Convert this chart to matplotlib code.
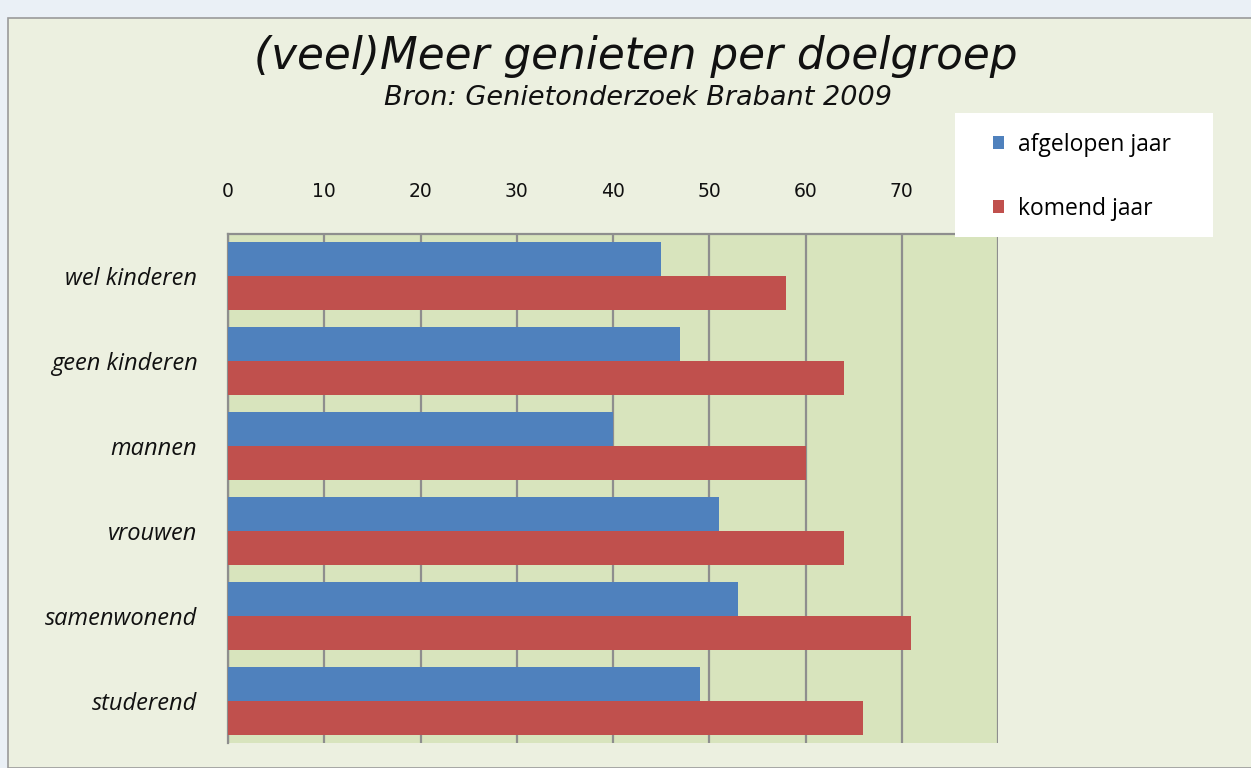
import matplotlib.pyplot as plt
import numpy as np
from matplotlib.patches import Rectangle

# data
groepen = ['wel kinderen', 'geen kinderen', 'mannen', 'vrouwen', 'samenwonend', 'studerend']
afgelopen_jaar = [45, 47, 40, 51, 53, 49]
komend_jaar = [58, 64, 60, 64, 71, 66]
ticks = [0, 10, 20, 30, 40, 50, 60, 70, 80]
tick_labels = ['0', '10', '20', '30', '40', '50', '60', '70', '']

blue = '#4F81BD'
red = '#C0504D'

fig = plt.figure(figsize=(12.51, 7.68), dpi=100)
fig.patch.set_facecolor('#EAF0F6')
# chart frame (screenshot look)
fig.add_artist(Rectangle((8 / 1251, 0), 1.0, 1 - 18 / 768, transform=fig.transFigure,
                         facecolor='#ECF0E0', edgecolor='#9A9A9A', linewidth=1.2, zorder=0))

ax = fig.add_axes([228 / 1251, 25 / 768, 770 / 1251, 509 / 768])
ax.set_facecolor('#D8E4BD')

y = np.arange(len(groepen))
h = 0.4
ax.barh(y - h / 2, afgelopen_jaar, height=h, color=blue, label='afgelopen jaar', zorder=3)
ax.barh(y + h / 2, komend_jaar, height=h, color=red, label='komend jaar', zorder=3)

ax.set_xlim(0, 80)
ax.set_ylim(len(groepen) - 0.5, -0.5)
ax.set_yticks(y)
ax.set_yticklabels(groepen, fontsize=17, style='italic', family='Open Sans')
ax.set_xticks(ticks)
ax.set_xticklabels(tick_labels, fontsize=13.5, family='DejaVu Sans')
ax.xaxis.tick_top()
ax.tick_params(axis='x', length=0, pad=24, colors='#111111')
ax.tick_params(axis='y', length=0, pad=22, colors='#111111')
ax.grid(axis='x', color='#8E8E8E', linewidth=1.6, zorder=1)
for s in ['bottom', 'right']:
    ax.spines[s].set_visible(False)
for s in ['top', 'left']:
    ax.spines[s].set_color('#8E8E8E')
    ax.spines[s].set_linewidth(1.6)

fig.text(636 / 1251, 1 - 56 / 768, '(veel)Meer genieten per doelgroep', ha='center', va='center',
         fontsize=31.5, style='italic', family='DejaVu Sans', color='#111111')
fig.text(638 / 1251, 1 - 98 / 768, 'Bron: Genietonderzoek Brabant 2009', ha='center', va='center',
         fontsize=19.5, style='italic', family='DejaVu Sans', color='#111111')

# legend box
fig.add_artist(Rectangle((955 / 1251, 1 - 237 / 768), 258 / 1251, 124 / 768, transform=fig.transFigure,
                         facecolor='white', edgecolor='none', zorder=2))
leg = fig.legend(loc='center', bbox_to_anchor=(1082 / 1251, 1 - 177 / 768), frameon=False,
                 prop={'family': 'Open Sans', 'size': 16.5}, handlelength=0.5, handleheight=0.5,
                 handletextpad=0.6, labelspacing=1.75)

fig.savefig('out.png', dpi=100, facecolor=fig.get_facecolor())
